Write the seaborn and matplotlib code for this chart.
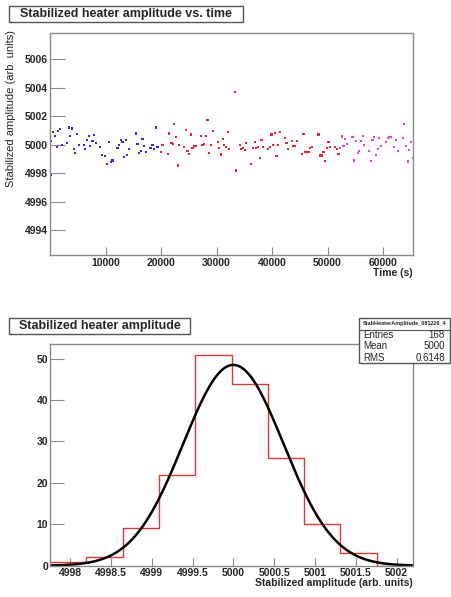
import numpy as np
import pandas as pd
import matplotlib
matplotlib.use("Agg")
import matplotlib.pyplot as plt
from matplotlib.patches import Rectangle
from matplotlib.lines import Line2D
from matplotlib.ticker import MultipleLocator
import seaborn as sns

sns.set_theme(style="white")
plt.rcParams["font.family"] = ["Liberation Sans", "DejaVu Sans"]

# --- amplitude vs time, three run periods ---
blue_t = [120, 235, 600, 960, 1260, 1440, 1860, 2170, 3070, 3370, 3670, 3970,
          4330, 4570, 4870, 5230, 6080, 6370, 6730, 7090, 7270, 7640, 7890,
          8250, 9080, 9390, 9980, 10290, 10590, 10950, 11250, 12150, 12450,
          12760, 13050, 13360, 13660, 13900, 14200, 15470, 15760, 16070,
          16370, 16670, 16970, 17270, 18110, 18470, 18770, 19080, 19370]
blue_amp = [5000.23, 4997.88, 5000.87, 5000.59, 4999.81, 5000.94, 5001.08,
            4999.95, 5000.14, 5001.20, 5000.59, 5001.13, 4999.69, 4999.43,
            5000.73, 4999.95, 5000.00, 4999.72, 5000.30, 5000.59, 4999.88,
            5000.23, 5000.66, 5000.11, 4999.81, 4999.27, 4999.19, 4998.66,
            5000.21, 4998.77, 4998.89, 4999.76, 4999.95, 5000.30, 5000.18,
            4999.12, 5000.30, 4999.29, 4999.67, 5000.78, 5000.07, 4999.39,
            4999.58, 5000.42, 4999.90, 4999.46, 4999.76, 5000.00, 4999.72,
            5001.20, 4999.83]

red_t = [19980, 20270, 21300, 21480, 21900, 22150, 22380, 22740, 23050, 23290,
         24130, 24490, 24780, 25090, 25400, 25690, 25990, 26300, 27200, 27490,
         27800, 28100, 28390, 28700, 29010, 29300, 30200, 30500, 30800, 31100,
         31410, 31710, 32000, 32310, 33270, 33570, 34170, 34480, 34780, 35080,
         35380, 36280, 36590, 36880, 37180, 37490, 37780, 38090, 38390, 39300,
         39590, 39890, 40200, 40490, 40790, 41100, 41390, 42290, 42600, 42910,
         43560, 43860, 44170, 44460, 45360, 45670, 45980, 46260, 46570, 46880,
         47170, 48380, 48680, 48970, 49280, 49590, 49870, 50180, 50490, 51390,
         51680, 51990]
red_amp = [4999.51, 4999.95, 4999.36, 5000.78, 5000.14, 5000.07, 5001.43,
           5000.54, 4998.54, 5000.00, 4999.86, 5001.01, 4999.58, 4999.34,
           5000.71, 4999.76, 4999.88, 4999.90, 5000.59, 5000.00, 5000.07,
           5000.61, 5001.72, 4999.43, 5000.00, 5000.94, 5000.18, 4999.76,
           4999.31, 5000.42, 4999.95, 4999.81, 5000.89, 4999.72, 5003.72,
           4998.18, 4999.95, 4999.67, 4999.79, 4999.62, 5000.09, 4998.66,
           4999.74, 5000.16, 4999.74, 4999.81, 4999.08, 5000.30, 4999.81,
           4999.72, 4999.81, 5000.71, 5000.00, 5000.82, 4999.22, 4999.95,
           5000.89, 5000.47, 5000.11, 4999.72, 5000.28, 4999.90, 4999.90,
           5000.25, 4999.36, 5000.75, 4999.48, 4999.46, 4999.51, 4999.76,
           4999.83, 5000.71, 4999.24, 4999.24, 4999.46, 4998.84, 4999.74,
           5000.18, 4999.81, 4999.83, 4999.67, 4999.36]

magenta_t = [52290, 52580, 52890, 53200, 53480, 54510, 54820, 55110, 55420,
             55720, 56010, 56320, 56620, 57530, 57820, 58120, 58430, 58720,
             59030, 59330, 59620, 60530, 60830, 61140, 61430, 62040, 62330,
             62640, 63540, 63840, 64140, 64440, 64750, 65040, 65340]
magenta_amp = [4999.74, 5000.57, 4999.88, 5000.37, 5000.04, 5000.54, 4998.89,
               5000.23, 4999.41, 4999.58, 5000.23, 5000.59, 4999.95, 4999.53,
               4998.87, 5000.30, 5000.52, 4999.29, 4999.72, 5000.47, 4999.90,
               5000.18, 5000.49, 5000.52, 5000.52, 4999.81, 5000.30, 4999.53,
               5000.47, 5001.46, 4999.90, 4998.82, 4999.62, 5000.18, 4999.05]

time_ticks = [10000, 20000, 30000, 40000, 50000, 60000]
amp_ticks = [4994, 4996, 4998, 5000, 5002, 5004, 5006]

# --- amplitude histogram ---
hist_edges = [4997.755, 4998.200, 4998.644, 4999.089, 4999.533, 4999.978,
              5000.422, 5000.867, 5001.311, 5001.756, 5002.200]
hist_counts = [1, 2, 9, 22, 51, 44, 26, 10, 3, 0]
fit_const = 48.5
fit_mean = 5000.0
fit_sigma = 0.6148
hist_ticks = [4998, 4998.5, 4999, 4999.5, 5000, 5000.5, 5001, 5001.5, 5002]
hist_tick_labels = ["4998", "4998.5", "4999", "4999.5", "5000", "5000.5",
                    "5001", "5001.5", "5002"]
count_ticks = [0, 10, 20, 30, 40, 50]

stats_name = "StabHeaterAmplitude_081226_4"
stats_rows = [("Entries", "168"), ("Mean", "5000"), ("RMS", "0.6148")]

W, H = 451, 597
fig = plt.figure(figsize=(W / 100, H / 100), dpi=100)


def fx(px):
    return px / W


def fy(py):
    return 1 - py / H


frame_col = "#8a8a8a"


def root_style(ax, xmaj_len, ymaj_len):
    for sp in ax.spines.values():
        sp.set_color(frame_col)
        sp.set_linewidth(1.0)
    ax.tick_params(axis="x", which="major", direction="in", length=xmaj_len,
                   width=0.8, color=frame_col, pad=2, labelsize=7.5)
    ax.tick_params(axis="x", which="minor", direction="in", length=xmaj_len / 2,
                   width=0.8, color=frame_col)
    ax.tick_params(axis="y", which="major", direction="in", length=ymaj_len,
                   width=0.8, color=frame_col, pad=1.5, labelsize=7.5)
    ax.tick_params(axis="y", which="minor", direction="in", length=ymaj_len / 2.2,
                   width=0.8, color=frame_col)
    ax.tick_params(bottom=True, left=True, top=False, right=False)
    ax.set_xlabel("")
    ax.set_ylabel("")


def title_box(x0, x1, y0, y1, text):
    fig.add_artist(Rectangle((fx(x0), fy(y1)), fx(x1) - fx(x0), fy(y0) - fy(y1),
                             transform=fig.transFigure, fill=False,
                             edgecolor="#555555", linewidth=1.0))
    fig.text(fx((x0 + x1) / 2), fy((y0 + y1) / 2), text, ha="center",
             va="center", fontsize=9, fontweight="bold")


# ---------------- top panel ----------------
ax1 = fig.add_axes([fx(50), fy(255), fx(413) - fx(50), fy(33) - fy(255)])
df = pd.DataFrame({
    "time": blue_t + red_t + magenta_t,
    "amp": blue_amp + red_amp + magenta_amp,
    "period": ["a"] * len(blue_t) + ["b"] * len(red_t) + ["c"] * len(magenta_t),
})
sns.scatterplot(data=df, x="time", y="amp", hue="period",
                palette={"a": "#2a2aff", "b": "#ee2233", "c": "#e040e0"},
                marker="s", s=2.5, linewidth=0, legend=False, ax=ax1)
ax1.set_xlim(0, 65400)
ax1.set_ylim(4992.24, 5007.85)
ax1.set_xticks(time_ticks)
ax1.set_xticklabels([str(t) for t in time_ticks], fontweight="bold")
ax1.set_yticks(amp_ticks)
ax1.set_yticklabels([str(a) for a in amp_ticks], fontweight="bold")
ax1.xaxis.set_minor_locator(MultipleLocator(2000))
ax1.yaxis.set_minor_locator(MultipleLocator(0.5))
root_style(ax1, 6, 11)

title_box(9, 243, 6, 22, "Stabilized heater amplitude vs. time")
fig.text(fx(413), fy(272.5), "Time (s)", ha="right", va="center",
         fontsize=7.5, fontweight="bold")
fig.text(fx(11), fy(30), "Stabilized amplitude (arb. units)", rotation=90,
         ha="center", va="top", fontsize=8)

# ---------------- bottom panel ----------------
ax2 = fig.add_axes([fx(50), fy(565.7), fx(413) - fx(50), fy(344) - fy(565.7)])
centers = [(a + b) / 2 for a, b in zip(hist_edges[:-1], hist_edges[1:])]
sns.histplot(x=centers, weights=hist_counts, bins=hist_edges, element="step",
             fill=False, color="#ee3333", linewidth=1.0, ax=ax2)
xs = np.linspace(hist_edges[0], hist_edges[-1], 400)
ys = fit_const * np.exp(-0.5 * ((xs - fit_mean) / fit_sigma) ** 2)
sns.lineplot(x=xs, y=ys, color="black", linewidth=1.8, ax=ax2)
ax2.set_xlim(hist_edges[0], hist_edges[-1])
ax2.set_ylim(0, 53.55)
ax2.set_xticks(hist_ticks)
ax2.set_xticklabels(hist_tick_labels, fontweight="bold")
ax2.set_yticks(count_ticks)
ax2.set_yticklabels([str(c) for c in count_ticks], fontweight="bold")
ax2.xaxis.set_minor_locator(MultipleLocator(0.1))
ax2.yaxis.set_minor_locator(MultipleLocator(2))
root_style(ax2, 6, 10)

title_box(9, 190, 318, 334, "Stabilized heater amplitude")
fig.text(fx(413), fy(583), "Stabilized amplitude (arb. units)", ha="right",
         va="center", fontsize=7.5, fontweight="bold")

# stats box
bx0, bx1, by0, by1 = 359.3, 450, 318.3, 362.7
fig.add_artist(Rectangle((fx(bx0), fy(by1)), fx(bx1) - fx(bx0), fy(by0) - fy(by1),
                         transform=fig.transFigure, facecolor="white",
                         edgecolor="#555555", linewidth=1.0, zorder=5))
fig.add_artist(Line2D([fx(bx0), fx(bx1)], [fy(329.5), fy(329.5)],
                      transform=fig.transFigure, color="#555555",
                      linewidth=0.8, zorder=6))
fig.text(fx((bx0 + bx1) / 2), fy(324), stats_name, ha="center", va="center",
         fontsize=4, fontweight="bold", zorder=7)
for i, (lab, val) in enumerate(stats_rows):
    yy = fy(335 + i * 11.3)
    fig.text(fx(363), yy, lab, ha="left", va="center", fontsize=7, zorder=7)
    fig.text(fx(445), yy, val, ha="right", va="center", fontsize=7, zorder=7)

fig.savefig("out.png", dpi=100)
